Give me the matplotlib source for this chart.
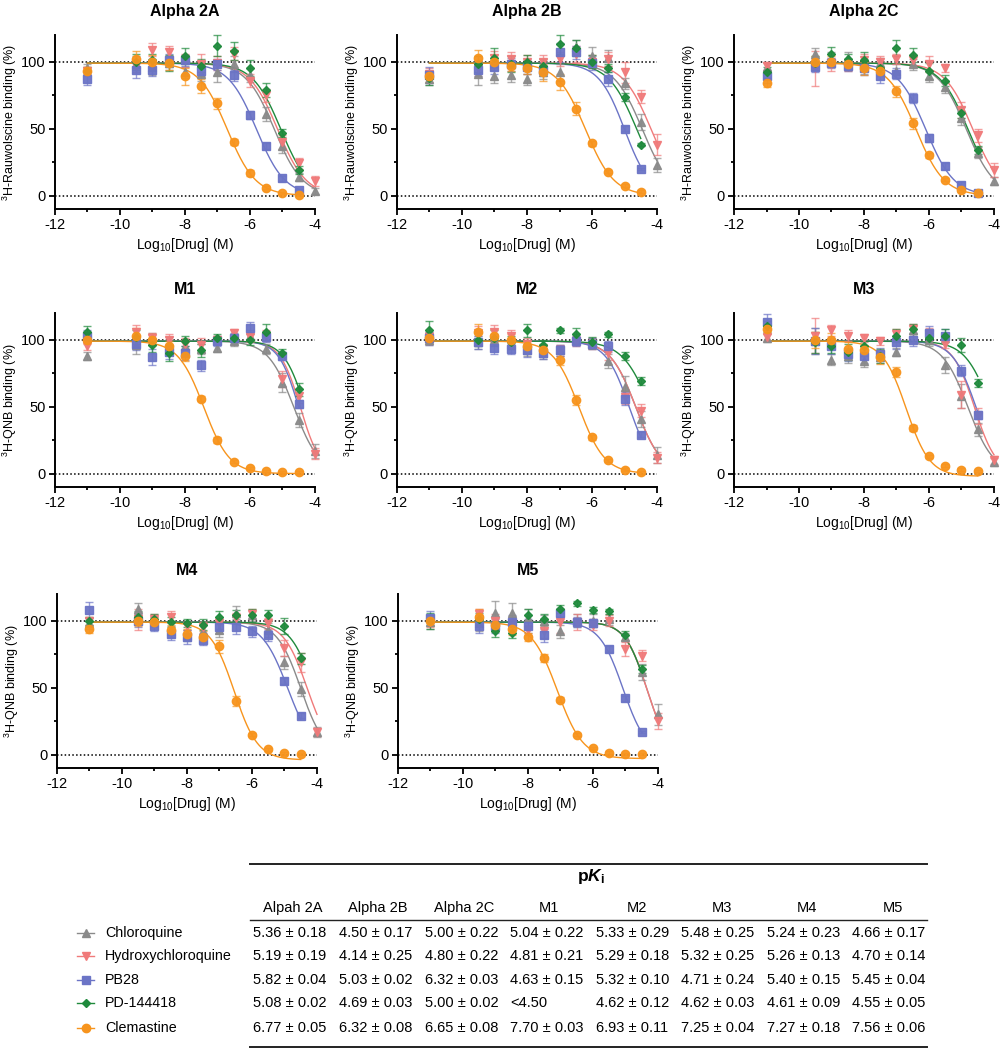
#!/usr/bin/env python3
"""Competition binding curves (alpha2 / muscarinic) with pKi table."""

import numpy as np
import matplotlib
matplotlib.use('Agg')
import matplotlib.pyplot as plt
from matplotlib.lines import Line2D
from matplotlib.ticker import MultipleLocator

plt.rcParams['font.family'] = ['Liberation Sans', 'DejaVu Sans']
plt.rcParams['mathtext.fontset'] = 'custom'
plt.rcParams['mathtext.rm'] = 'Liberation Sans'
plt.rcParams['mathtext.it'] = 'Liberation Sans:italic'
plt.rcParams['mathtext.bf'] = 'Liberation Sans:bold'
plt.rcParams['mathtext.bfit'] = 'Liberation Sans:italic:bold'
plt.rcParams['axes.unicode_minus'] = False

nan = np.nan

# log10 concentrations tested (M)
CONC = [-11, -9.5, -9, -8.5, -8, -7.5, -7, -6.5, -6, -5.5, -5, -4.5, -4]

DRUGS = ["Chloroquine", "Hydroxychloroquine", "PB28", "PD-144418", "Clemastine"]
COLORS = ["#8a8a8a", "#f07a7a", "#6b74c6", "#1f8a3c", "#f7941d"]
MARKERS = ["^", "v", "s", "D", "o"]
MSIZES = [6.2, 6.2, 5.6, 4.2, 6.0]

PANELS = ["Alpha 2A", "Alpha 2B", "Alpha 2C", "M1", "M2", "M3", "M4", "M5"]
YLABELS = ["$^{3}$H-Rauwolscine binding (%)"] * 3 + ["$^{3}$H-QNB binding (%)"] * 5

# mean % specific binding, rows = CQ, HCQ, PB28, PD-144418, Clemastine
MEAN_A2A = [[95, 98, 96, 99, 92, 91, 92, 98, 90, 61, 37, 14, 3.5],
            [93, 97, 109, 107, 101, 98, 99, 106, 86, 75, 40, 24, 11],
            [87, 94, 94, 101, 101, 93, 98, 90, 60, 37, 13, 4, nan],
            [93, 100, 101, 99, 104, 97, 112, 108, 95, 79, 47, 19, nan],
            [93, 102, 100, 99, 89, 82, 69, 40, 17, 6, 2, 0.5, nan]]
SEM_A2A = [[3, 6, 6, 5, 4, 5, 7, 6, 5, 5, 5, 3, 2],
           [3, 5, 5, 5, 5, 8, 5, 5, 5, 5, 5, 4, 4],
           [4, 6, 5, 5, 4, 4, 4, 4, 3, 2, 2, 1, nan],
           [3, 6, 5, 6, 6, 5, 8, 7, 6, 5, 3, 3, nan],
           [3, 6, 5, 5, 6, 5, 4, 2, 2, 1, 1, 1, nan]]

MEAN_A2B = [[87, 91, 89, 90, 87, 92, 92, 111, 104, 103, 84, 55, 23],
            [91, 95, 103, 102, 100, 100, 102, 106, 100, 102, 92, 74, 38],
            [90, 94, 96, 98, 96, 94, 107, 107, 99, 87, 50, 20, nan],
            [88, 98, 103, 98, 100, 97, 113, 110, 100, 95, 74, 38, nan],
            [89, 103, 100, 97, 95, 92, 85, 65, 39, 18, 7.5, 3, nan]]
SEM_A2B = [[4, 8, 5, 5, 4, 5, 6, 5, 7, 6, 4, 6, 5],
           [4, 6, 5, 5, 5, 5, 5, 6, 5, 5, 8, 5, 8],
           [6, 5, 5, 5, 5, 5, 7, 5, 5, 5, 2, 1, nan],
           [5, 6, 7, 6, 5, 5, 7, 6, 5, 3, 3, 1, nan],
           [4, 6, 5, 4, 4, 6, 6, 5, 2, 1, 1, 1, nan]]

MEAN_A2C = [[96, 106, 102, 103, 96, 99, 93, 98, 89, 81, 58, 32, 11],
            [97, 95, 98, 97, 101, 100, 102, 101, 98, 95, 64, 45, 19],
            [89, 96, 99, 97, 95, 89, 91, 73, 43, 22, 8, 2, nan],
            [92, 99, 106, 102, 101, 95, 110, 105, 93, 86, 62, 34, nan],
            [84, 100, 100, 98, 95, 93, 78, 54, 30, 12, 4, 2, nan]]
SEM_A2C = [[3, 4, 5, 4, 5, 4, 5, 4, 4, 4, 5, 4, 3],
           [3, 13, 5, 4, 5, 4, 4, 4, 6, 3, 6, 5, 5],
           [5, 4, 4, 4, 5, 5, 4, 4, 3, 2, 2, 1, nan],
           [4, 5, 5, 4, 6, 4, 6, 5, 6, 4, 4, 3, nan],
           [3, 4, 4, 4, 5, 4, 4, 4, 2, 1, 1, 1, nan]]

MEAN_M1 = [[88, 96, 101, 97, 95, 93, 94, 99, 103, 93, 68, 40, 17],
           [95, 106, 101, 100, 97, 96, 100, 105, 102, 103, 71, 58, 15],
           [103, 97, 87, 91, 90, 81, 99, 101, 109, 102, 88, 52, nan],
           [106, 102, 96, 90, 99, 92, 101, 101, 100, 106, 90, 63, nan],
           [100, 103, 100, 95, 88, 56, 25, 9, 4, 2, 1, 1, nan]]
SEM_M1 = [[3, 7, 4, 5, 4, 4, 3, 4, 4, 4, 7, 5, 5],
          [3, 5, 4, 4, 4, 5, 3, 3, 4, 4, 6, 5, 4],
          [4, 5, 6, 5, 5, 4, 4, 4, 4, 4, 3, 3, nan],
          [4, 5, 5, 6, 4, 5, 3, 3, 4, 6, 3, 5, nan],
          [3, 6, 4, 4, 4, 2, 2, 1, 1, 1, 1, 1, nan]]

MEAN_M2 = [[100, 98, 100, 97, 92, 90, 92, 100, 97, 84, 65, 41, 14],
           [102, 105, 106, 103, 97, 93, 92, 99, 97, 90, 57, 47, 12],
           [101, 98, 94, 93, 92, 90, 92, 99, 97, 95, 56, 29, nan],
           [107, 100, 101, 98, 107, 96, 107, 104, 98, 104, 88, 69, nan],
           [101, 106, 103, 100, 95, 92, 85, 55, 27, 10, 3, 1, nan]]
SEM_M2 = [[4, 5, 4, 4, 4, 4, 4, 4, 4, 5, 8, 6, 6],
          [4, 5, 5, 4, 4, 4, 4, 4, 4, 5, 5, 5, 4],
          [5, 5, 5, 4, 5, 4, 4, 4, 4, 4, 5, 2, nan],
          [7, 5, 6, 5, 5, 4, 2, 5, 4, 2, 3, 3, nan],
          [4, 6, 5, 4, 4, 4, 4, 4, 2, 1, 1, 1, nan]]

MEAN_M3 = [[101, 99, 85, 88, 84, 87, 91, 107, 100, 81, 58, 33, 9],
           [102, 103, 107, 103, 101, 99, 104, 108, 104, 97, 59, 43, 10],
           [113, 99, 95, 89, 88, 89, 98, 100, 105, 103, 77, 44, nan],
           [110, 98, 95, 91, 95, 88, 103, 108, 101, 103, 96, 68, nan],
           [108, 100, 100, 93, 92, 87, 76, 34, 13, 6, 3, 2, nan]]
SEM_M3 = [[3, 10, 4, 5, 4, 4, 3, 4, 5, 6, 9, 5, 3],
          [3, 13, 4, 4, 3, 3, 4, 4, 5, 3, 10, 6, 3],
          [6, 10, 6, 5, 5, 5, 5, 5, 5, 5, 4, 3, nan],
          [4, 8, 5, 6, 4, 5, 5, 4, 4, 5, 5, 3, nan],
          [4, 6, 5, 5, 4, 5, 4, 2, 1, 1, 1, 1, nan]]

MEAN_M4 = [[98, 109, 99, 92, 89, 92, 93, 106, 104, 93, 69, 49, 17],
           [100, 101, 101, 103, 96, 95, 98, 102, 105, 98, 80, 69, 17],
           [108, 100, 96, 90, 88, 86, 95, 95, 92, 89, 55, 29, nan],
           [100, 103, 101, 99, 98, 97, 103, 104, 104, 104, 96, 72, nan],
           [94, 100, 99, 93, 90, 88, 81, 40, 15, 4, 1, 0.5, nan]]
SEM_M4 = [[4, 4, 4, 4, 4, 5, 5, 5, 4, 5, 5, 5, 4],
          [3, 8, 4, 4, 3, 4, 4, 4, 4, 4, 6, 7, 3],
          [6, 5, 4, 4, 5, 4, 4, 5, 4, 4, 2, 2, nan],
          [3, 4, 4, 4, 3, 4, 4, 4, 5, 4, 6, 4, nan],
          [3, 4, 4, 4, 4, 4, 5, 4, 1, 1, 1, 1, nan]]

MEAN_M5 = [[99, 98, 106, 106, 102, 100, 92, 100, 100, 101, 88, 62, 30],
           [99, 105, 100, 98, 93, 92, 99, 99, 97, 100, 79, 74, 25],
           [102, 96, 96, 99, 96, 89, 106, 99, 98, 79, 42, 17, nan],
           [100, 101, 92, 91, 104, 101, 109, 113, 108, 107, 89, 64, nan],
           [100, 103, 97, 94, 88, 72, 41, 15, 5, 1.5, 0.5, 0.5, nan]]
SEM_M5 = [[5, 6, 9, 7, 7, 4, 5, 5, 5, 4, 3, 6, 8],
          [4, 4, 5, 5, 4, 5, 8, 6, 4, 4, 5, 4, 6],
          [5, 5, 5, 5, 5, 5, 3, 4, 3, 2, 2, 1, nan],
          [6, 5, 4, 4, 5, 4, 3, 2, 2, 2, 3, 3, nan],
          [4, 6, 5, 5, 3, 3, 2, 1, 1, 1, 1, 1, nan]]

MEANS = [MEAN_A2A, MEAN_A2B, MEAN_A2C, MEAN_M1, MEAN_M2, MEAN_M3, MEAN_M4, MEAN_M5]
SEMS = [SEM_A2A, SEM_A2B, SEM_A2C, SEM_M1, SEM_M2, SEM_M3, SEM_M4, SEM_M5]

# fitted logIC50 / Hill / bottom
LOGIC50 = [[-5.25, -5.15, -5.8, -5.05, -6.7],
           [-4.45, -4.18, -5.0, -4.62, -6.2],
           [-4.85, -4.65, -6.1, -4.8, -6.4],
           [-4.65, -4.45, -4.5, -4.3, -7.42],
           [-4.65, -4.65, -4.85, -4.2, -6.4],
           [-4.8, -4.6, -4.55, -4.1, -6.7],
           [-4.5, -4.3, -4.9, -4.1, -6.55],
           [-4.35, -4.35, -5.08, -4.35, -7.1]]
HILL = [[1.0, 1.0, 1.0, 1.0, 1.0],
        [1.0, 1.0, 1.1, 1.0, 1.0],
        [1.0, 1.0, 1.0, 1.0, 1.0],
        [1.1, 1.4, 1.4, 1.3, 1.1],
        [1.1, 1.1, 1.2, 1.0, 1.1],
        [1.1, 1.3, 1.2, 1.1, 1.2],
        [1.2, 1.2, 1.1, 1.2, 1.2],
        [1.3, 1.3, 1.2, 1.3, 1.1]]
BOTTOM = [[0, 0, 0, 0, 0],
          [0, 0, 0, 0, 0],
          [0, 0, 0, 0, 0],
          [0, 0, 0, 0, 0],
          [0, 0, 0, 0, 0],
          [0, 0, 0, 0, -2],
          [0, 0, 0, 0, -4],
          [0, 0, 0, 0, -3]]
TOP = 99

# pKi table
COL_HEADS = ["Alpah 2A", "Alpha 2B", "Alpha 2C", "M1", "M2", "M3", "M4", "M5"]
PKI_CQ = ["5.36 ± 0.18", "4.50 ± 0.17", "5.00 ± 0.22", "5.04 ± 0.22", "5.33 ± 0.29", "5.48 ± 0.25", "5.24 ± 0.23", "4.66 ± 0.17"]
PKI_HCQ = ["5.19 ± 0.19", "4.14 ± 0.25", "4.80 ± 0.22", "4.81 ± 0.21", "5.29 ± 0.18", "5.32 ± 0.25", "5.26 ± 0.13", "4.70 ± 0.14"]
PKI_PB28 = ["5.82 ± 0.04", "5.03 ± 0.02", "6.32 ± 0.03", "4.63 ± 0.15", "5.32 ± 0.10", "4.71 ± 0.24", "5.40 ± 0.15", "5.45 ± 0.04"]
PKI_PD = ["5.08 ± 0.02", "4.69 ± 0.03", "5.00 ± 0.02", "<4.50", "4.62 ± 0.12", "4.62 ± 0.03", "4.61 ± 0.09", "4.55 ± 0.05"]
PKI_CLEM = ["6.77 ± 0.05", "6.32 ± 0.08", "6.65 ± 0.08", "7.70 ± 0.03", "6.93 ± 0.11", "7.25 ± 0.04", "7.27 ± 0.18", "7.56 ± 0.06"]
PKI_ROWS = [PKI_CQ, PKI_HCQ, PKI_PB28, PKI_PD, PKI_CLEM]

W, H = 1003, 1050


def fx(x):
    return x / W


def fy(y):
    return 1 - y / H


def logistic(x, c, h, bot):
    return bot + (TOP - bot) / (1 + 10 ** ((x - c) * h))


fig = plt.figure(figsize=(W / 100, H / 100), dpi=100)

# axes boxes in pixels: left, bottom(from top)
AX_LEFT = [55, 397, 734, 55, 397, 734, 57, 398]
AX_BOTTOM = [209, 209, 209, 487, 487, 487, 768, 768]
AX_W, AX_H = 260, 174

x = np.array(CONC, dtype=float)
draw_order = [4, 3, 2, 1, 0]

for p, name in enumerate(PANELS):
    ax = fig.add_axes([fx(AX_LEFT[p]), fy(AX_BOTTOM[p]), AX_W / W, AX_H / H])
    ax.axhline(100, color="black", ls=(0, (1, 1.5)), lw=1.1, zorder=1)
    ax.axhline(0, color="black", ls=(0, (1, 1.5)), lw=1.1, zorder=1)
    for d in draw_order:
        y = np.array(MEANS[p][d], dtype=float)
        e = np.array(SEMS[p][d], dtype=float)
        ok = ~np.isnan(y)
        xs = np.linspace(-11, x[ok].max(), 200)
        ax.plot(xs, logistic(xs, LOGIC50[p][d], HILL[p][d], BOTTOM[p][d]),
                color=COLORS[d], lw=1.0, zorder=2 + d * 0.1, clip_on=False)
        eb = ax.errorbar(x[ok], y[ok], yerr=e[ok], fmt="none", ecolor=COLORS[d],
                         elinewidth=1.0, capsize=3, capthick=1.0, alpha=0.7,
                         zorder=3 + d * 0.1)
        for art in list(eb.lines[1]) + list(eb.lines[2]):
            art.set_clip_on(False)
        ax.plot(x[ok], y[ok], ls="none", marker=MARKERS[d], ms=MSIZES[d],
                color=COLORS[d], mec=COLORS[d], alpha=0.95, zorder=4 + d * 0.1,
                clip_on=False)

    ax.set_xlim(-12, -4)
    ax.set_ylim(-10, 120)
    ax.set_xticks([-12, -10, -8, -6, -4])
    ax.xaxis.set_minor_locator(MultipleLocator(1))
    ax.set_yticks([0, 50, 100])
    ax.yaxis.set_minor_locator(MultipleLocator(25))
    ax.tick_params(which="major", length=4.5, width=1.3, labelsize=10.5, pad=2)
    ax.tick_params(which="minor", length=2.5, width=1.3)
    for s in ["top", "right"]:
        ax.spines[s].set_visible(False)
    for s in ["left", "bottom"]:
        ax.spines[s].set_linewidth(1.4)
    ax.set_title(name, fontsize=11.5, fontweight="bold", pad=14)
    ax.set_xlabel("Log$_{10}$[Drug] (M)", fontsize=10, labelpad=3)
    ax.set_ylabel(YLABELS[p], fontsize=9, labelpad=2)

# ---- pKi table ----
for yy, lw in [(864, 1.4), (920, 1.0), (1047, 1.4)]:
    fig.add_artist(Line2D([fx(250), fx(927)], [fy(yy), fy(yy)],
                          transform=fig.transFigure, color="#222222", lw=lw))

fig.text(fx(591), fy(876), r"p$\mathbfit{K}$$_{\mathbf{i}}$", fontsize=12.5,
         fontweight="bold", ha="center", va="center")

col_centers = [293, 378, 464, 549, 637, 722, 807, 893]
col_lefts = [253, 339, 425, 510, 596, 681, 767, 852]
row_ys = [933, 956, 980, 1003, 1028]

for cx, head in zip(col_centers, COL_HEADS):
    fig.text(fx(cx), fy(908), head, fontsize=10.5, ha="center", va="center")

for ry, row in zip(row_ys, PKI_ROWS):
    for lx, val in zip(col_lefts, row):
        fig.text(fx(lx), fy(ry), val, fontsize=10.5, ha="left", va="center")

# legend next to the table
for ry, d in zip(row_ys, range(5)):
    fig.add_artist(Line2D([fx(77), fx(94)], [fy(ry), fy(ry)], transform=fig.transFigure,
                          color=COLORS[d], lw=1.0))
    fig.add_artist(Line2D([fx(85.5)], [fy(ry)], transform=fig.transFigure, ls="none",
                          marker=MARKERS[d], ms=MSIZES[d], color=COLORS[d]))
    fig.text(fx(105), fy(ry), DRUGS[d], fontsize=10.3, ha="left", va="center")

fig.savefig("out.png", dpi=100)
